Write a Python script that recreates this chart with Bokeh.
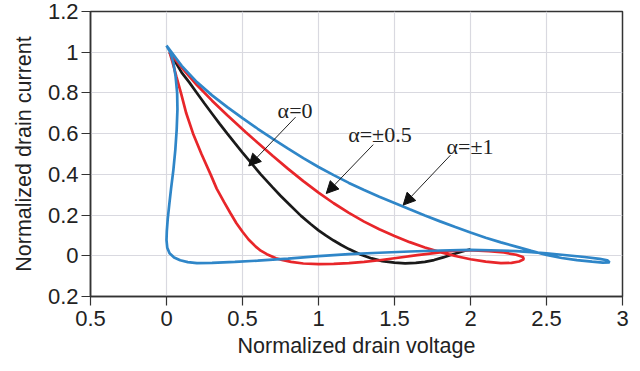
from bokeh.plotting import figure
from bokeh.models import FixedTicker, Arrow, NormalHead, Label
from bokeh.embed import file_html
from bokeh.resources import INLINE

# ---- data ----
x_ticks = [-0.5, 0, 0.5, 1, 1.5, 2, 2.5, 3]
x_tick_labels = ["0.5", "0", "0.5", "1", "1.5", "2", "2.5", "3"]
y_ticks = [-0.2, 0, 0.2, 0.4, 0.6, 0.8, 1.0, 1.2]
y_tick_labels = ["0.2", "0", "0.2", "0.4", "0.6", "0.8", "1", "1.2"]

# alpha = +-1 (blue closed loop): outer branch, right tip, return, left branch
blue_v = [0.0, 0.1, 0.2, 0.3, 0.4, 0.5, 0.6, 0.7, 0.8, 0.9, 1.0, 1.1, 1.2, 1.3, 1.4, 1.5,
          1.6, 1.7, 1.8, 1.9, 2.0, 2.1, 2.2, 2.3, 2.4, 2.5, 2.6, 2.7, 2.8, 2.87, 2.915,
          2.9, 2.85, 2.75, 2.6, 2.5, 2.4, 2.3, 2.2, 2.0, 1.8, 1.6, 1.4, 1.2, 1.0, 0.8, 0.6,
          0.45, 0.3, 0.2, 0.14, 0.09, 0.05, 0.02, 0.005, 0.0, 0.002, 0.008, 0.018, 0.03,
          0.045, 0.058, 0.067, 0.072, 0.07, 0.06, 0.045, 0.025, 0.0]
blue_i = [1.033, 0.933, 0.853, 0.788, 0.730, 0.676, 0.624, 0.574, 0.526, 0.480, 0.436, 0.396, 0.358, 0.323, 0.290, 0.259,
          0.228, 0.198, 0.169, 0.141, 0.114, 0.089, 0.066, 0.045, 0.024, 0.004, -0.011, -0.021, -0.029, -0.034, -0.033,
          -0.022, -0.015, -0.006, 0.005, 0.012, 0.018, 0.023, 0.026, 0.029, 0.026, 0.021, 0.015, 0.008, -0.002, -0.014, -0.024,
          -0.030, -0.035, -0.036, -0.031, -0.022, -0.008, 0.012, 0.04, 0.077, 0.12, 0.18, 0.25, 0.33,
          0.42, 0.52, 0.62, 0.72, 0.80, 0.88, 0.95, 1.0, 1.033]

# alpha = +-0.5 (red closed loop)
red_v = [0.02, 0.1, 0.2, 0.3, 0.4, 0.52, 0.6, 0.7, 0.8, 0.9, 1.0, 1.1, 1.2, 1.3, 1.4, 1.5, 1.6, 1.7,
         1.8, 1.9, 2.0, 2.1, 2.2, 2.27, 2.32, 2.35, 2.345, 2.3, 2.22, 2.12, 2.02, 1.94, 1.85, 1.76,
         1.65, 1.5, 1.4, 1.3, 1.2, 1.1, 1.0, 0.9, 0.82, 0.76, 0.72, 0.66, 0.62, 0.587, 0.54, 0.5,
         0.46, 0.42, 0.378, 0.33, 0.29, 0.23, 0.175, 0.13, 0.095, 0.065, 0.04, 0.02]
red_i = [1.0, 0.924, 0.839, 0.762, 0.690, 0.608, 0.555, 0.490, 0.427, 0.367, 0.310, 0.258, 0.211, 0.168, 0.130, 0.097, 0.067, 0.041,
         0.018, -0.001, -0.017, -0.029, -0.036, -0.035, -0.028, -0.017, -0.006, 0.005, 0.016, 0.023, 0.027, 0.027, 0.022, 0.013,
         0.003, -0.012, -0.022, -0.030, -0.036, -0.040, -0.041, -0.038, -0.030, -0.020, -0.012, 0.008, 0.025, 0.045, 0.08, 0.118,
         0.16, 0.21, 0.265, 0.33, 0.40, 0.50, 0.60, 0.70, 0.80, 0.88, 0.95, 1.0]

# alpha = 0 (black)
black_v = [0.02, 0.06, 0.1, 0.15, 0.2, 0.25, 0.3, 0.35, 0.4, 0.45, 0.5, 0.55, 0.62, 0.7, 0.75, 0.8,
           0.885, 0.95, 1.0, 1.05, 1.1, 1.15, 1.2, 1.28, 1.35, 1.42, 1.5, 1.57, 1.64, 1.7, 1.76, 1.82,
           1.88, 1.94, 2.0]
black_i = [1.0, 0.95, 0.9, 0.852, 0.8, 0.748, 0.698, 0.648, 0.6, 0.553, 0.507, 0.462, 0.4, 0.335, 0.295, 0.258,
           0.196, 0.155, 0.125, 0.099, 0.075, 0.053, 0.033, 0.005, -0.013, -0.026, -0.034, -0.037, -0.035, -0.03, -0.021, -0.008,
           0.006, 0.02, 0.032]

# annotations: text, text anchor, arrow start, arrow end
ann_text = ["\u03b1=0", "\u03b1=\u00b10.5", "\u03b1=\u00b11"]
ann_x = [0.731, 1.195, 1.842]
ann_y = [0.715, 0.596, 0.535]
arr_x0 = [0.849, 1.360, 1.868]
arr_y0 = [0.681, 0.546, 0.494]
arr_x1 = [0.541, 1.051, 1.557]
arr_y1 = [0.441, 0.306, 0.249]

BLUE = "#2f86c8"
RED = "#e8262a"
BLACK = "#1a1a1a"

p = figure(width=640, height=371, output_backend="svg", toolbar_location=None,
           x_range=(-0.5, 3.0), y_range=(-0.2, 1.2),
           min_border_left=90, min_border_right=18, min_border_top=11, min_border_bottom=75)
p.background_fill_color = "white"
p.border_fill_color = "white"
p.outline_line_color = "#333333"
p.outline_line_width = 1.5

p.xaxis.ticker = FixedTicker(ticks=x_ticks)
p.yaxis.ticker = FixedTicker(ticks=y_ticks)
p.xaxis.major_label_overrides = {t: l for t, l in zip(x_ticks, x_tick_labels)}
p.yaxis.major_label_overrides = {t: l for t, l in zip(y_ticks, y_tick_labels)}
p.xgrid.ticker = FixedTicker(ticks=x_ticks)
p.ygrid.ticker = FixedTicker(ticks=y_ticks)
p.grid.grid_line_color = "#d9d9e0"
p.grid.grid_line_width = 1.2

for ax in (p.xaxis, p.yaxis):
    ax.axis_line_color = "#333333"
    ax.axis_line_width = 1.5
    ax.major_tick_line_color = "#333333"
    ax.major_tick_line_width = 1.2
    ax.major_tick_out = 9
    ax.major_tick_in = 0
    ax.minor_tick_line_color = None
    ax.major_label_text_font = "Liberation Sans"
    ax.major_label_text_font_size = "22px"
    ax.major_label_text_color = "#222222"
    ax.axis_label_text_font = "Liberation Sans"
    ax.axis_label_text_font_size = "21.5px"
    ax.axis_label_text_font_style = "normal"
    ax.axis_label_text_color = "#222222"

p.xaxis.axis_label = "Normalized drain voltage"
p.yaxis.axis_label = "Normalized drain current"
p.xaxis.major_label_standoff = 5
p.yaxis.major_label_standoff = 3
p.xaxis.axis_label_standoff = 5
p.yaxis.axis_label_standoff = 9

p.line(black_v, black_i, line_color=BLACK, line_width=2.7)
p.line(red_v, red_i, line_color=RED, line_width=2.7)
p.line(blue_v, blue_i, line_color=BLUE, line_width=2.7)

for t, tx, ty, x0, y0, x1, y1 in zip(ann_text, ann_x, ann_y, arr_x0, arr_y0, arr_x1, arr_y1):
    p.add_layout(Label(x=tx, y=ty, text=t, text_font="Liberation Serif", text_font_size="22px",
                       text_color="#222222", text_baseline="alphabetic", text_align="left"))
    p.add_layout(Arrow(x_start=x0, y_start=y0, x_end=x1, y_end=y1, line_color="#222222", line_width=1,
                       end=NormalHead(size=12, fill_color="#111111", line_color="#111111", line_width=1)))

open("out.html", "w").write(file_html(p, INLINE))
